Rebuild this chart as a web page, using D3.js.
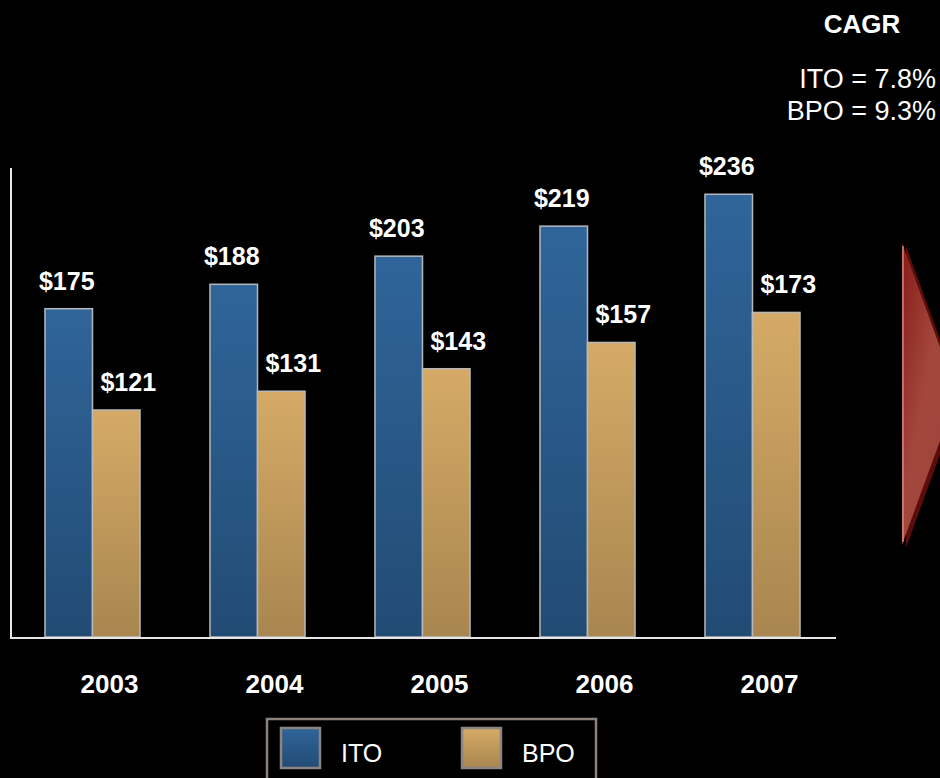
<!DOCTYPE html>
<html>
<head>
<meta charset="utf-8">
<script src="https://cdn.jsdelivr.net/npm/d3@7"></script>
<style>
  html, body { margin: 0; padding: 0; background: #000; }
  svg { display: block; font-family: Arial, "Liberation Sans", sans-serif; }
</style>
</head>
<body>
<svg id="chart" width="940" height="778"></svg>
<script>
// chart data
const years = ['2003', '2004', '2005', '2006', '2007'];
const series = ['ITO', 'BPO'];
const itoValues = [175, 188, 203, 219, 236];
const bpoValues = [121, 131, 143, 157, 173];
const cagrLines = ['ITO = 7.8%', 'BPO = 9.3%'];

const svg = d3.select('#chart');
const defs = svg.append('defs');

// gradients for bars
function vGrad(id, top, bottom) {
  const g = defs.append('linearGradient').attr('id', id)
    .attr('x1', 0).attr('y1', 0).attr('x2', 0).attr('y2', 1);
  g.append('stop').attr('offset', '0%').attr('stop-color', top);
  g.append('stop').attr('offset', '100%').attr('stop-color', bottom);
}
vGrad('gITO', '#2f6599', '#224b74');
vGrad('gBPO', '#d5aa66', '#a8864f');

const arrowGrad = defs.append('linearGradient').attr('id', 'gArrow')
  .attr('x1', 0).attr('y1', 0).attr('x2', 1).attr('y2', 1);
arrowGrad.append('stop').attr('offset', '0%').attr('stop-color', '#861b17');
arrowGrad.append('stop').attr('offset', '45%').attr('stop-color', '#a3473d');
arrowGrad.append('stop').attr('offset', '100%').attr('stop-color', '#9c4339');

const colors = { ITO: 'url(#gITO)', BPO: 'url(#gBPO)' };

// scales
const x0 = d3.scaleBand().domain(years).range([10, 835])
  .paddingInner(0.424).paddingOuter(0.212);
const x1 = d3.scaleBand().domain(series).range([0, x0.bandwidth()]);
const y = d3.scaleLinear().domain([0, 250]).range([637, 168]);

const rows = years.map((yr, i) => ({ year: yr, ITO: itoValues[i], BPO: bpoValues[i] }));

// bars
const groups = svg.selectAll('g.year')
  .data(rows)
  .join('g')
  .attr('class', 'year')
  .attr('transform', d => `translate(${x0(d.year)},0)`);

groups.selectAll('rect')
  .data(d => series.map(s => ({ key: s, value: d[s] })))
  .join('rect')
  .attr('x', d => x1(d.key))
  .attr('y', d => y(d.value))
  .attr('width', x1.bandwidth())
  .attr('height', d => y(0) - y(d.value))
  .attr('fill', d => colors[d.key])
  .attr('stroke', '#b8b8b8')
  .attr('stroke-width', 1.5);

// value labels
groups.selectAll('text.val')
  .data(d => series.map(s => ({ key: s, value: d[s] })))
  .join('text')
  .attr('class', 'val')
  .attr('x', d => x1(d.key) + x1.bandwidth() / 2 + (d.key === 'BPO' ? 12 : -2))
  .attr('y', d => y(d.value) - 19)
  .attr('text-anchor', 'middle')
  .attr('fill', '#fff')
  .attr('font-size', 25)
  .attr('font-weight', 'bold')
  .text(d => '$' + d.value);

// axes lines
svg.append('line')
  .attr('x1', 11).attr('x2', 11).attr('y1', 168).attr('y2', y(0) + 1)
  .attr('stroke', '#e6e6e6').attr('stroke-width', 2);
svg.append('line')
  .attr('x1', 10).attr('x2', 836).attr('y1', y(0) + 1).attr('y2', y(0) + 1)
  .attr('stroke', '#e6e6e6').attr('stroke-width', 2);

// year labels
svg.selectAll('text.yr')
  .data(years)
  .join('text')
  .attr('class', 'yr')
  .attr('x', d => x0(d) + x0.bandwidth() / 2 + 17)
  .attr('y', 693)
  .attr('text-anchor', 'middle')
  .attr('fill', '#fff')
  .attr('font-size', 26)
  .attr('font-weight', 'bold')
  .text(d => d);

// CAGR box text
svg.append('text')
  .attr('x', 862).attr('y', 33)
  .attr('text-anchor', 'middle')
  .attr('fill', '#fff').attr('font-size', 26).attr('font-weight', 'bold')
  .text('CAGR');
svg.selectAll('text.cagr')
  .data(cagrLines)
  .join('text')
  .attr('class', 'cagr')
  .attr('x', 936)
  .attr('y', (d, i) => 88 + i * 32)
  .attr('text-anchor', 'end')
  .attr('fill', '#fff').attr('font-size', 27)
  .text(d => d);

// red arrow
const arrowPts = [[902, 243], [957, 394], [902, 545]];
svg.append('polygon')
  .attr('points', arrowPts.map(p => [p[0] + 4, p[1] + 3].join(',')).join(' '))
  .attr('fill', '#5a0d0a');
svg.append('polygon')
  .attr('points', arrowPts.map(p => p.join(',')).join(' '))
  .attr('fill', 'url(#gArrow)');
svg.append('line')
  .attr('x1', 903).attr('x2', 903).attr('y1', 246).attr('y2', 542)
  .attr('stroke', '#d88a80').attr('stroke-width', 2).attr('opacity', 0.7);

// legend
const legend = svg.append('g');
legend.append('rect')
  .attr('x', 267).attr('y', 719).attr('width', 329).attr('height', 70)
  .attr('fill', '#000').attr('stroke', '#8c827c').attr('stroke-width', 2.5);
const legItems = legend.selectAll('g')
  .data(series)
  .join('g')
  .attr('transform', (d, i) => `translate(${281 + i * 181},728)`);
legItems.append('rect')
  .attr('width', 39).attr('height', 40)
  .attr('fill', d => colors[d])
  .attr('stroke', '#8c8480').attr('stroke-width', 2.5);
legItems.append('text')
  .attr('x', 60).attr('y', 34)
  .attr('fill', '#fff').attr('font-size', 25)
  .text(d => d);
</script>
</body>
</html>
